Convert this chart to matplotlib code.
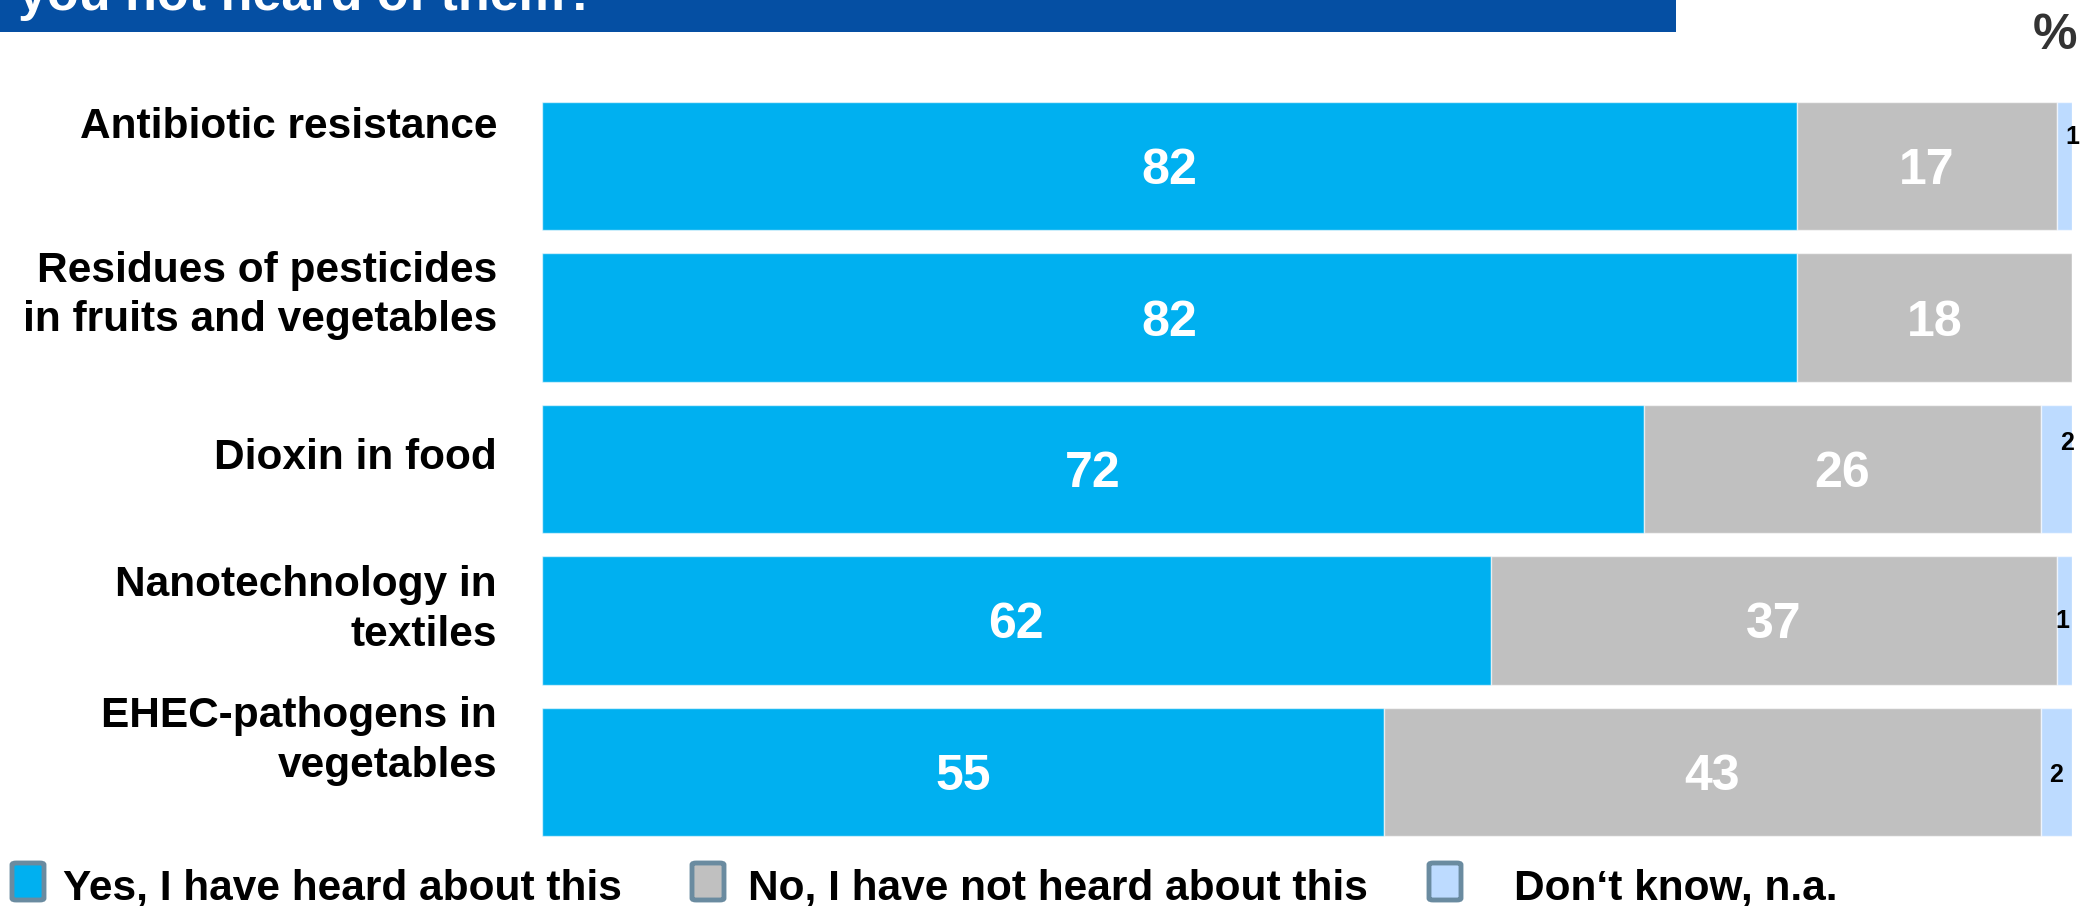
import numpy as np
import matplotlib
matplotlib.use("Agg")
import matplotlib.pyplot as plt
from matplotlib.patches import Rectangle, FancyBboxPatch

plt.rcParams['font.family'] = ['Liberation Sans', 'DejaVu Sans']
plt.rcParams['font.weight'] = 'bold'

categories = ["Antibiotic resistance",
              "Residues of pesticides\nin fruits and vegetables",
              "Dioxin in food",
              "Nanotechnology in\ntextiles",
              "EHEC-pathogens in\nvegetables"]
yes_vals = [82, 82, 72, 62, 55]
no_vals = [17, 18, 26, 37, 43]
dk_vals = [1, 0, 2, 1, 2]
series_names = ["Yes, I have heard about this",
                "No, I have not heard about this",
                "Don\u2018t know, n.a."]
title_tail = "you not heard of them?"

colors = ["#00B0F0", "#C0C0C0", "#BDDBFF"]

W, H = 2095, 906
fig = plt.figure(figsize=(W / 100, H / 100), dpi=100)

def fx(px):
    return px / W

def fy(py):
    return 1 - py / H

# bar area in pixels
ax_l, ax_r, ax_t, ax_b = 542, 2072, 90.25, 847.75
ax = fig.add_axes([fx(ax_l), fy(ax_b), fx(ax_r - ax_l), (ax_b - ax_t) / H])

y = np.arange(len(categories))
bh = 0.845
edge = dict(edgecolor=(1, 1, 1, 0.6), linewidth=1)
ax.barh(y, yes_vals, height=bh, color=colors[0], **edge)
ax.barh(y, no_vals, left=yes_vals, height=bh, color=colors[1], **edge)
left_dk = np.array(yes_vals) + np.array(no_vals)
ax.barh(y, dk_vals, left=left_dk, height=bh, color=colors[2], **edge)

ax.set_xlim(0, 100)
ax.set_ylim(len(categories) - 0.5, -0.5)
ax.axis('off')

# value labels in segments (baseline sits 18 px below bar centre)
for i in range(len(categories)):
    for xc, v in [(yes_vals[i] / 2, yes_vals[i]),
                  (yes_vals[i] + no_vals[i] / 2, no_vals[i])]:
        ax.annotate(str(v), xy=(xc, y[i]), xytext=(0, -18 * 0.72),
                    textcoords='offset points', ha='center', va='baseline',
                    color='white', fontsize=36, fontweight='bold')

# small "don't know" labels (pixel offsets from segment centre)
dk_dx = [8, 0, 10, -2, -1]
dk_dy = [-29, 0, -26, 1, 3]
for i in range(len(categories)):
    if dk_vals[i] == 0:
        continue
    ax.annotate(str(dk_vals[i]), xy=(left_dk[i] + dk_vals[i] / 2, y[i]),
                xytext=(dk_dx[i] * 0.72, -dk_dy[i] * 0.72), textcoords='offset points',
                ha='center', va='center', fontsize=18, fontweight='bold',
                color='black', annotation_clip=False)

# category labels (last-line baseline offsets in pixels from bar centre)
lab_dy = [-28, 14, 0, 25, 5]
for i, c in enumerate(categories):
    ax.annotate(c, xy=(0, y[i]), xycoords=('axes fraction', 'data'),
                xytext=(-45 * 0.72, -lab_dy[i] * 0.72), textcoords='offset points',
                ha='right', va='baseline', fontsize=30.5, fontweight='bold',
                multialignment='right', linespacing=1.32, color='black',
                annotation_clip=False)

# title strip
fig.patches.append(Rectangle((0, fy(32)), fx(1676), 32 / H, transform=fig.transFigure,
                             facecolor="#054FA3", edgecolor='none', zorder=0))
fig.text(fx(18), fy(10), title_tail, color='white', fontsize=37.5,
         fontweight='bold', ha='left', va='baseline')

fig.text(fx(2077), fy(49), "%", color='#333333', fontsize=36,
         fontweight='bold', ha='right', va='baseline')

# legend
mk_x = [10, 690, 1427]
tx_x = [63, 748, 1514]
for k in range(3):
    fig.patches.append(FancyBboxPatch((fx(mk_x[k] + 2), fy(900)), fx(32), 37 / H,
                                      boxstyle="round,pad=0,rounding_size=0.002",
                                      transform=fig.transFigure, facecolor=colors[k],
                                      edgecolor="#6A8BA0", linewidth=3.5))
    fig.text(fx(tx_x[k]), fy(900), series_names[k], fontsize=30.5, fontweight='bold',
             color='black', ha='left', va='baseline')

fig.savefig("out.png", dpi=100)
